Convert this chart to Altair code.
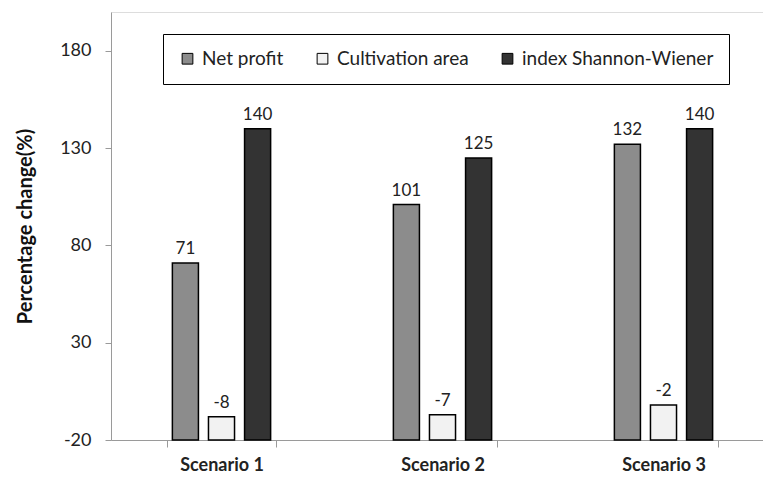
import altair as alt
import pandas as pd

# Chart data
scenarios = ["Scenario 1", "Scenario 2", "Scenario 3"]
series = ["Net profit", "Cultivation area", "index Shannon-Wiener"]
net_profit = [71, 101, 132]
cultivation_area = [-8, -7, -2]
shannon_wiener = [140, 125, 140]
y_ticks = [-20, 30, 80, 130, 180]

fills = ["#8c8c8c", "#f2f2f2", "#333333"]
FONT = "Lato"
TEXT = "#222222"
AXIS_GRAY = "#9a9a9a"

rows = []
for i, sc in enumerate(scenarios):
    for name, vals in zip(series, [net_profit, cultivation_area, shannon_wiener]):
        rows.append({"scenario": sc, "series": name, "value": vals[i], "label": str(vals[i])})
df = pd.DataFrame(rows)

x_enc = alt.X(
    "scenario:N",
    sort=scenarios,
    title=None,
    scale=alt.Scale(range=[0, 663], paddingInner=0.51, paddingOuter=0.255),
    axis=alt.Axis(
        labelAngle=0,
        tickBand="extent",
        tickSize=7,
        tickColor=AXIS_GRAY,
        domainColor=AXIS_GRAY,
        labelFont=FONT,
        labelFontSize=18,
        labelFontWeight="bold",
        labelColor=TEXT,
        labelPadding=9,
        grid=False,
    ),
)
xoff_enc = alt.XOffset(
    "series:N", sort=series, scale=alt.Scale(paddingInner=0.278, paddingOuter=0.139)
)
y_enc = alt.Y(
    "value:Q",
    scale=alt.Scale(domain=[-20, 200], nice=False, zero=False),
    axis=alt.Axis(
        values=y_ticks,
        labelExpr="'' + datum.value",
        title="Percentage change(%)",
        grid=False,
        tickSize=6,
        tickColor=AXIS_GRAY,
        domainColor=AXIS_GRAY,
        labelPadding=14,
        labelFont=FONT,
        labelFontSize=18,
        labelColor=TEXT,
        titleFont=FONT,
        titleFontSize=20,
        titleFontWeight="bold",
        titleColor="#111111",
        titlePadding=24,
    ),
)

bars = alt.Chart(df).mark_bar(stroke="black", strokeWidth=1.5).encode(
    x=x_enc,
    xOffset=xoff_enc,
    y=y_enc,
    y2=alt.datum(-20),
    color=alt.Color(
        "series:N",
        sort=series,
        scale=alt.Scale(domain=series, range=fills),
        legend=alt.Legend(
            title=None,
            orient="none",
            legendX=52,
            legendY=22,
            direction="horizontal",
            symbolType="square",
            symbolSize=115,
            symbolStrokeColor="black",
            symbolStrokeWidth=1,
            labelFont=FONT,
            labelFontSize=19,
            labelColor=TEXT,
            labelOffset=5,
            labelLimit=400,
            columnPadding=29,
            padding=15,
            strokeColor="black",
            fillColor="white",
        ),
    ),
)

labels = alt.Chart(df).mark_text(
    baseline="bottom", dy=-5, font=FONT, fontSize=17, color=TEXT
).encode(
    x=x_enc,
    xOffset=xoff_enc,
    y=alt.Y("value:Q"),
    text=alt.Text("label:N"),
)

chart = (
    alt.layer(bars, labels)
    .properties(
        width=652,
        height=428,
        autosize=alt.AutoSizeParams(type="none"),
        padding={"left": 111, "top": 12, "right": 0, "bottom": 38},
    )
    .configure_view(stroke="#808080", strokeWidth=1.5)
    .configure(background="white")
)

chart.save("out.html", embed_options={"renderer": "svg", "actions": False})
